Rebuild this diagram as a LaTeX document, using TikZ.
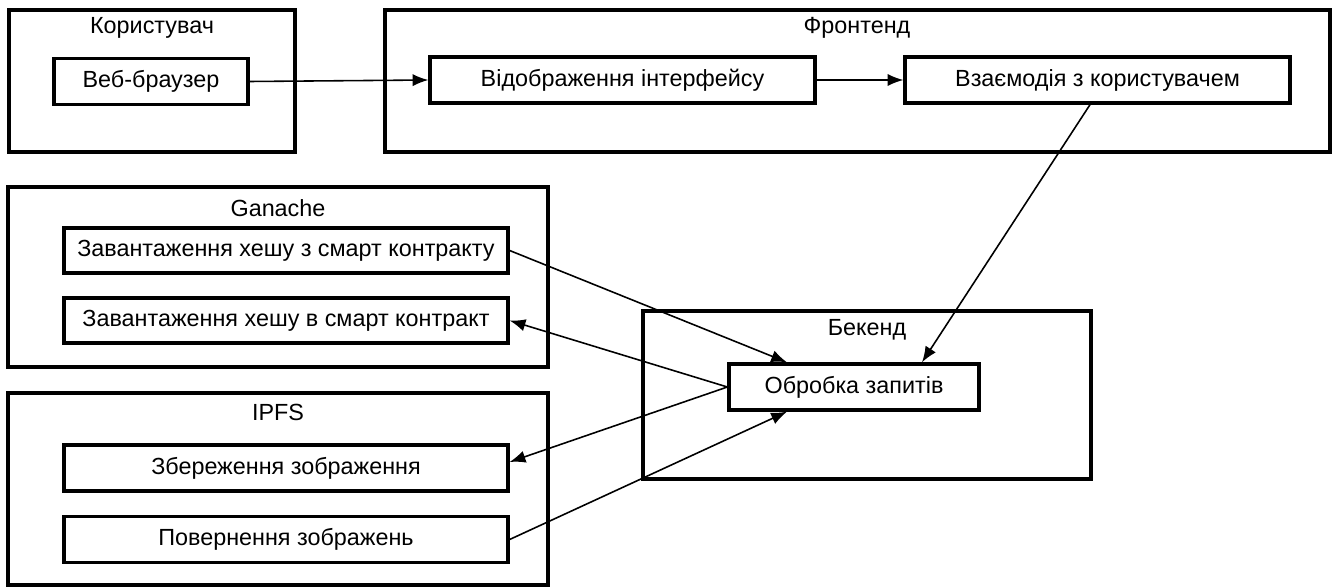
\documentclass[tikz,border=0pt]{standalone}
\usepackage{fontspec}
\setmainfont{Liberation Sans}
\usetikzlibrary{arrows.meta}

\begin{document}
\begin{tikzpicture}[x=0.02cm, y=-0.02cm,
        font=\fontsize{13.3pt}{15pt}\selectfont,
        group/.style={rectangle, draw, line width=2pt, inner sep=0pt},
        item/.style={rectangle, draw, line width=1.9pt, minimum height=0.92cm, inner sep=0pt},
        title/.style={inner sep=0pt},
        every path/.style={->, >={Latex[length=9pt,width=7pt]}, line width=0.9pt}]

      \useasboundingbox (0,0) rectangle (1337,587);

      % Outer groups
      \node[group, minimum width=5.72cm, minimum height=2.84cm] (user) at (152,81) {};
      \node[group, minimum width=18.9cm, minimum height=2.84cm] (front) at (857.5,81) {};
      \node[group, minimum width=10.8cm, minimum height=3.6cm] (ganache) at (278,277) {};
      \node[group, minimum width=10.8cm, minimum height=3.84cm] (ipfs) at (278,489) {};
      \node[group, minimum width=8.96cm, minimum height=3.36cm] (back) at (867,395) {};

      % Group titles
      \node[title] (userT) at (152,28) {Користувач};
      \node[title] (frontT) at (857,28) {Фронтенд};
      \node[title] (ganacheT) at (278,208) {Ganache};
      \node[title] (ipfsT) at (278,412) {IPFS};
      \node[title] (backT) at (867,330) {Бекенд};

      % Користувач
      \node[item, minimum width=3.88cm] (browser) at (151,81.5) {Веб-браузер};

      % Фронтенд
      \node[item, minimum width=7.7cm] (display) at (622.5,80) {Відображення інтерфейсу};
      \node[item, minimum width=7.7cm] (interact) at (1097.5,80) {Взаємодія з користувачем};

      % Ganache
      \node[item, minimum width=8.88cm, minimum height=0.9cm] (load1) at (286,250.5) {Завантаження хешу з смарт контракту};
      \node[item, minimum width=8.88cm, minimum height=0.9cm] (load2) at (286,320.5) {Завантаження хешу в смарт контракт};

      % IPFS
      \node[item, minimum width=8.88cm] (save) at (286,468) {Збереження зображення};
      \node[item, minimum width=8.88cm] (ret) at (286,539.5) {Повернення зображень};

      % Бекенд
      \node[item, minimum width=5cm] (proc) at (854,387) {Обробка запитів};

      % Connections
      \draw (browser.east) -- (display.west);
      \draw (display.east) -- (interact.south west |- display.east);
      \draw ([xshift=-0.15cm]interact.south) -- ([xshift=1.36cm]proc.north);
      \draw (load1.east) -- ([xshift=-1.34cm]proc.north);
      \draw (proc.west) -- (load2.east);
      \draw (proc.west) -- ([yshift=0.12cm]save.east);
      \draw (ret.east) -- ([xshift=-1.34cm]proc.south);
    \end{tikzpicture}
\end{document}
